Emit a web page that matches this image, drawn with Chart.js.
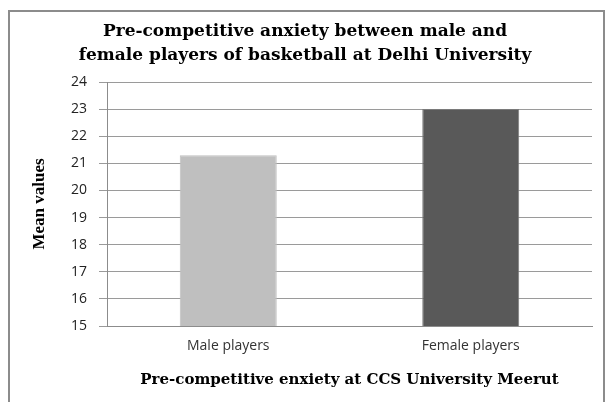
<!DOCTYPE html>
<html>
<head>
<meta charset="utf-8">
<script src="https://cdn.jsdelivr.net/npm/chart.js@4.4.0/dist/chart.umd.min.js"></script>
<style>
  html, body { margin: 0; padding: 0; background: #fff; }
  #wrap { width: 609px; height: 402px; }
</style>
</head>
<body>
<div id="wrap"><canvas id="barChart" width="609" height="402"></canvas></div>
<script>
// Chart data
const categories = ['Male players', 'Female players'];
const meanValues = [21.3, 23.0];
const barColors = ['#BFBFBF', '#595959'];
const yTicks = [15, 16, 17, 18, 19, 20, 21, 22, 23, 24];

const serif = "'DejaVu Serif', 'Liberation Serif', serif";
const sans = "'Open Sans', 'Liberation Sans', sans-serif";

// outer frame like the pasted excel picture
const framePlugin = {
    id: 'frame',
    beforeDraw(chart) {
        const ctx = chart.ctx;
        ctx.save();
        ctx.fillStyle = '#fff';
        ctx.fillRect(0, 0, chart.width, chart.height);
        ctx.strokeStyle = '#8c8c8c';
        ctx.lineWidth = 2;
        ctx.strokeRect(9, 11, 595, 400);
        ctx.restore();
    }
};

const ctx = document.getElementById('barChart').getContext('2d');
const barChart = new Chart(ctx, {
    type: 'bar',
    data: {
        labels: categories,
        datasets: [{
            data: meanValues,
            backgroundColor: barColors,
            borderColor: ['#BFBFBF', '#7a7a7a'],
            borderWidth: 1,
            categoryPercentage: 0.4,
            barPercentage: 1.0
        }]
    },
    plugins: [framePlugin],
    options: {
        responsive: false,
        animation: false,
        devicePixelRatio: 1,
        layout: { padding: { left: 18, right: 17, top: 20, bottom: 12 } },
        plugins: {
            legend: { display: false },
            tooltip: { enabled: false },
            title: {
                display: true,
                text: ['Pre-competitive anxiety between male and', 'female players of basketball at Delhi University'],
                color: '#000',
                font: { family: serif, size: 17, weight: 'bold', lineHeight: '24px' },
                padding: { top: 0, bottom: 14 }
            }
        },
        scales: {
            x: {
                grid: { display: false, drawTicks: false },
                border: { display: true, color: '#8c8c8c' },
                ticks: { color: '#333', font: { family: sans, size: 14 }, padding: 12 },
                title: {
                    display: true,
                    text: 'Pre-competitive enxiety at CCS University Meerut',
                    color: '#000',
                    font: { family: serif, size: 15, weight: 'bold', lineHeight: 1.2 },
                    padding: { top: 0, bottom: 1 }
                },
                afterFit(scale) { scale.height = 64; }
            },
            y: {
                min: 15,
                max: 24,
                afterBuildTicks(scale) { scale.ticks = yTicks.map(v => ({ value: v })); },
                grid: { color: '#9a9a9a', tickLength: 8 },
                border: { display: true, color: '#8c8c8c' },
                ticks: { color: '#222', font: { family: sans, size: 14 }, padding: 12 },
                title: {
                    display: true,
                    text: 'Mean values',
                    color: '#000',
                    font: { family: "'Liberation Serif', serif", size: 17, weight: 'bold', lineHeight: 1.2 },
                    padding: { top: 11, bottom: 0 }
                },
                afterFit(scale) { scale.width = 89; }
            }
        }
    }
});
</script>
</body>
</html>
